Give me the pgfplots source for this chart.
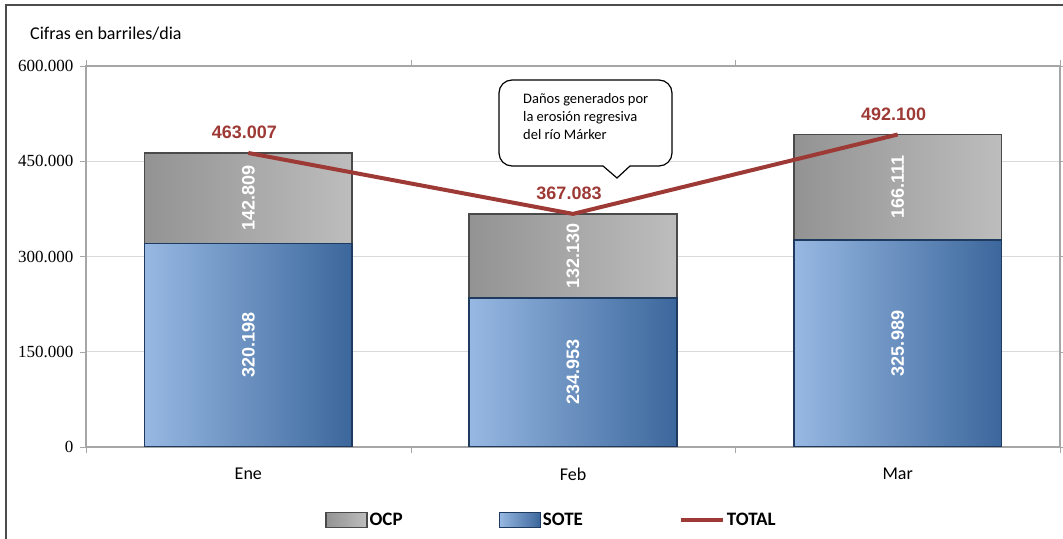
\documentclass[border=0pt]{standalone}
\usepackage{fontspec}
\setmainfont{Carlito}
\newfontfamily\serifnum{Liberation Serif}
\newfontfamily\arialf{Liberation Sans}
\usepackage{pgfplots}
\usepackage{pgfplotstable}
\pgfplotsset{compat=1.18}

\definecolor{ocpL}{HTML}{BDBDBD}
\definecolor{ocpD}{HTML}{939393}
\definecolor{ocpB}{HTML}{4A4A4A}
\definecolor{soteL}{HTML}{97B8E2}
\definecolor{soteD}{HTML}{3C679C}
\definecolor{soteB}{HTML}{1F3A5F}
\definecolor{totalred}{HTML}{9E3A36}
\definecolor{gridgray}{HTML}{D9D9D9}
\definecolor{axisgray}{HTML}{A6A6A6}

% barrels per day
\pgfplotstableread{
x sote ocp total
0 320198 142809 463007
1 234953 132130 367083
2 325989 166111 492100
}\data

\pgfplotsset{
  barlegend/.style={legend image code/.code={\draw[##1] (0bp,-7.5bp) rectangle (41bp,7.5bp);}},
  linelegend/.style={legend image code/.code={\draw[##1] (0bp,0bp) -- (42bp,0bp);}},
  ocpbar/.style={ybar, bar shift=0pt, bar width=0.64, left color=ocpD, right color=ocpL,
    draw=ocpB, line width=1.5bp},
  sotebar/.style={ybar, bar shift=0pt, bar width=0.64, left color=soteL, right color=soteD,
    draw=soteB, line width=1.5bp},
  barlabel/.style={draw=none, mark=none,
    nodes near coords={\pgfmathprintnumber[fixed,1000 sep={.}]{\pgfplotspointmeta}},
    every node near coord/.append style={font=\fontsize{18bp}{22bp}\arialf\bfseries,
      text=white, anchor=center, rotate=90,
      /pgf/number format/assume math mode=true}},
}

\begin{document}
\begin{tikzpicture}[x=1bp,y=1bp]
% bars: OCP drawn to the total, SOTE over it
\begin{axis}[
  at={(86bp,92bp)}, anchor=south west,
  scale only axis, width=974bp, height=381bp,
  xmin=-0.5, xmax=2.5, ymin=0, ymax=600000,
  xtick={0,1,2}, xticklabels={Ene,Feb,Mar},
  xtick style={draw=none},
  minor xtick={-0.5,0.5,1.5,2.5},
  minor x tick style={draw=axisgray},
  tick align=outside,
  minor tick length=6bp, major tick length=6bp,
  xticklabel style={font=\fontsize{18bp}{22bp}\selectfont, yshift=-11bp},
  ytick={0,150000,300000,450000,600000},
  scaled y ticks=false,
  yticklabel style={font=\fontsize{17bp}{20bp}\serifnum, xshift=-3bp,
    /pgf/number format/.cd, fixed, 1000 sep={.}, assume math mode=true},
  ytick style={draw=axisgray},
  ymajorgrids, grid style={draw=gridgray, line width=1bp},
  axis line style={draw=axisgray, line width=1.2bp},
]
\addplot[ocpbar] table[x=x, y=total, restrict x to domain=-0.2:0.2] {\data};
\addplot[ocpbar] table[x=x, y=total, restrict x to domain=0.8:1.2] {\data};
\addplot[ocpbar] table[x=x, y=total, restrict x to domain=1.8:2.2] {\data};
\addplot[sotebar] table[x=x, y=sote, restrict x to domain=-0.2:0.2] {\data};
\addplot[sotebar] table[x=x, y=sote, restrict x to domain=0.8:1.2] {\data};
\addplot[sotebar] table[x=x, y=sote, restrict x to domain=1.8:2.2] {\data};
% value labels in the middle of each segment
\addplot[barlabel, point meta=\thisrow{sote}]
  table[x=x, y expr=\thisrow{sote}/2] {\data};
\addplot[barlabel, point meta=\thisrow{ocp}]
  table[x=x, y expr=\thisrow{sote}+\thisrow{ocp}/2] {\data};
\end{axis}

% total line and legend
\begin{axis}[
  at={(86bp,92bp)}, anchor=south west,
  scale only axis, width=974bp, height=381bp,
  xmin=-0.5, xmax=2.5, ymin=0, ymax=600000,
  hide axis, clip=false,
  legend columns=3,
  legend style={draw=none, fill=none, at={(0.478,-0.192)}, anchor=center,
    font=\fontsize{19bp}{22bp}\selectfont\bfseries,
    /tikz/every even column/.append style={column sep=94bp},
    inner xsep=0pt},
]
\addlegendimage{barlegend, left color=ocpD, right color=ocpL, draw=ocpB, line width=1.2bp}
\addlegendentry{OCP}
\addlegendimage{barlegend, left color=soteL, right color=soteD, draw=soteB, line width=1.2bp}
\addlegendentry{SOTE}
\addplot[color=totalred, line width=4bp, mark=none, linelegend,
  point meta=y,
  nodes near coords={\pgfmathprintnumber[fixed,1000 sep={.}]{\pgfplotspointmeta}},
  every node near coord/.append style={font=\fontsize{18bp}{22bp}\arialf\bfseries,
    text=totalred, anchor=south, yshift=9bp, xshift=-4bp,
    /pgf/number format/assume math mode=true}]
  table[x=x, y=total] {\data};
\addlegendentry{TOTAL}
\end{axis}

% outer frame
\draw[draw=black!70, line width=1.5bp] (6,0) -- (6,534) -- (1063,534);
% units label
\node[anchor=base west, inner sep=0pt, font=\fontsize{18bp}{22bp}\selectfont] at (30,499) {Cifras en barriles/dia};
% callout
\draw[fill=white, draw=black, line width=1.2bp]
  (499,390) [rounded corners=13bp] -- (499,459) -- (672,459) -- (672,373)
  [sharp corners] -- (630,373) -- (617,361) -- (603,373)
  [rounded corners=13bp] -- (499,373) [sharp corners] -- cycle;
\node[anchor=north west, align=left, inner sep=0pt,
  font=\fontsize{14.5bp}{18bp}\selectfont] at (523,446)
  {Daños generados por\\la erosión regresiva\\del río Márker};

\pgfresetboundingbox
\path[use as bounding box] (0,0) rectangle (1063,539);
\end{tikzpicture}
\end{document}
